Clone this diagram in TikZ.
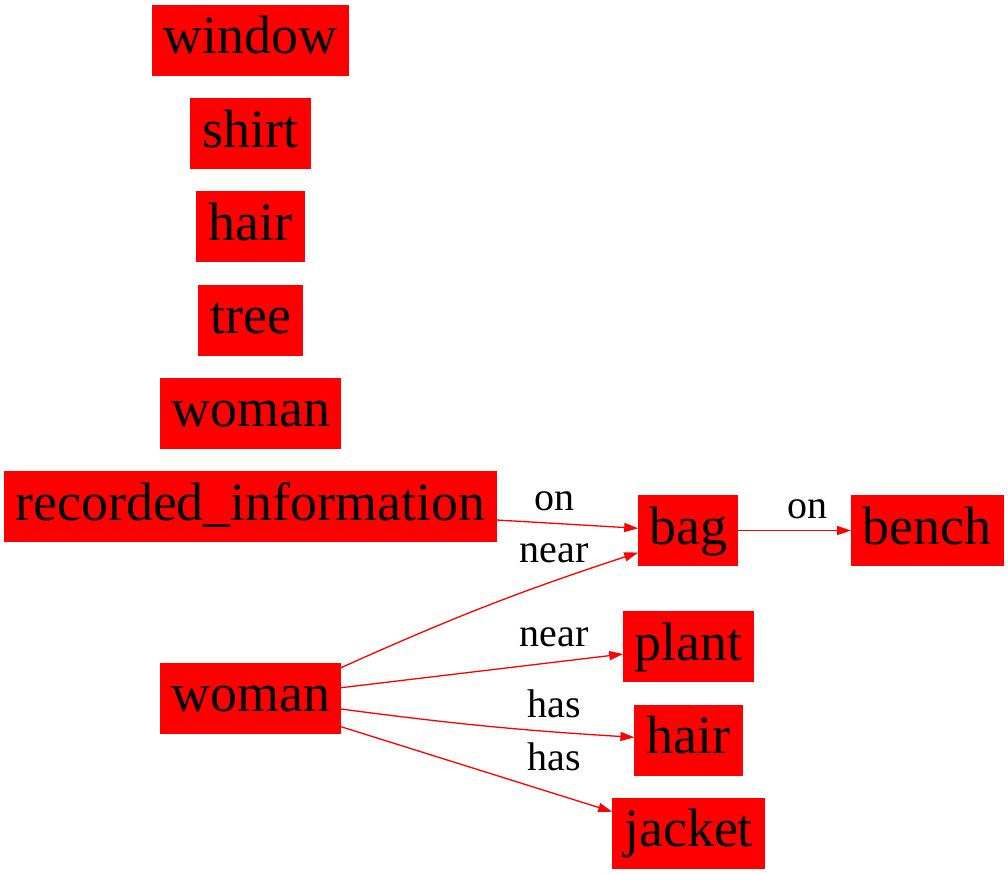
\documentclass[tikz,border=0pt]{standalone}
\usepackage{fontspec}
\setmainfont{Liberation Serif}
\usetikzlibrary{arrows.meta,calc}
\tikzset{
  obj/.style={fill=red, draw=red, line width=0.6pt, inner xsep=0pt, inner ysep=0pt,
    font=\fontsize{54}{54}\selectfont, text height=40pt, text depth=13pt,
    minimum height=70pt, text=black},
  rel/.style={draw=red, line width=1.3pt, -{Triangle[length=14pt,width=9pt]}},
  lbl/.style={font=\fontsize{40}{40}\selectfont, anchor=base, inner sep=0pt, text=black}
}
\begin{document}
\begin{tikzpicture}[x=1pt,y=-1pt]
\useasboundingbox (0,0) rectangle (1008,873);
% left column
\node[obj, minimum width=196pt] (window) at (250.7,39.8) {window};
\node[obj, minimum width=120pt] (shirt) at (250.7,133.5) {shirt};
\node[obj, minimum width=108pt] (hair1) at (250.7,226.5) {hair};
\node[obj, minimum width=104pt] (tree) at (250.7,319.8) {tree};
\node[obj, minimum width=180pt] (woman1) at (250.7,413.3) {woman};
\node[obj, minimum width=492pt] (rec) at (250.5,506.5) {recorded\_information};
\node[obj, minimum width=180pt] (woman2) at (250.7,698) {woman};
% right column
\node[obj, minimum width=99pt] (bag) at (688,530.5) {bag};
\node[obj, minimum width=152pt] (bench) at (927.3,530.5) {bench};
\node[obj, minimum width=130pt] (plant) at (688.5,646.7) {plant};
\node[obj, minimum width=108pt] (hair2) at (688.7,740) {hair};
\node[obj, minimum width=152pt] (jacket) at (688.5,833.3) {jacket};
% edges
\draw[rel] ($(rec.east)+(0,13.5)$) -- ($(bag.west)+(0,-2.2)$);
\draw[rel] (bag.east) -- (bench.west);
\draw[rel] ($(woman2.east)+(0,-30.3)$) to[bend left=3] ($(bag.west)+(0,22)$);
\draw[rel] ($(woman2.east)+(0,-10.3)$) -- ($(plant.west)+(0,7.3)$);
\draw[rel] ($(woman2.east)+(0,11)$) to[bend right=2] ($(hair2.west)+(0,-2.7)$);
\draw[rel] ($(woman2.east)+(0,28.7)$) -- ($(jacket.west)+(0,-21.6)$);
% labels
\node[lbl] (l1) at (554,510) {on};
\node[lbl] (l2) at (807.3,518.3) {on};
\node[lbl] (l3) at (554,562.7) {near};
\node[lbl] (l4) at (554,646.7) {near};
\node[lbl] (l5) at (554,717.3) {has};
\node[lbl] (l6) at (554,770) {has};
\end{tikzpicture}
\end{document}
